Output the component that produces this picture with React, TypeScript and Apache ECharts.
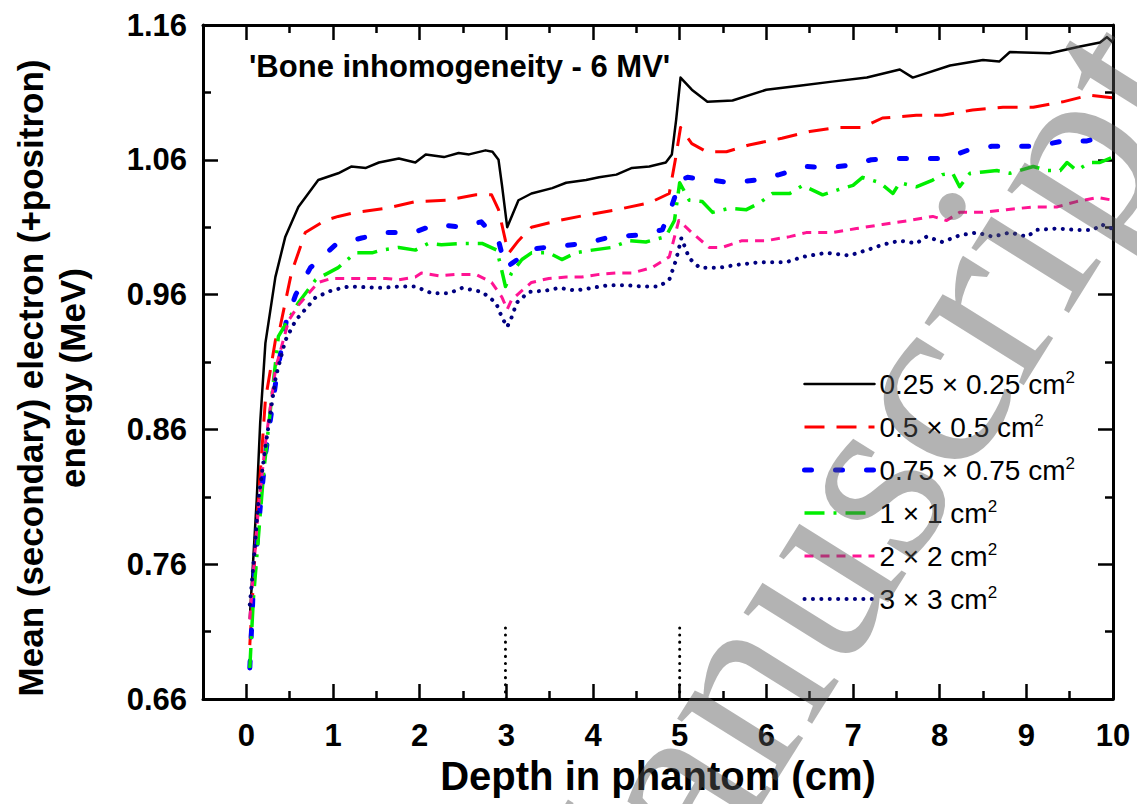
import React, { useEffect, useRef } from "react";
import * as echarts from "echarts";

const seriesNames = [
  "0.25 × 0.25 cm",
  "0.5 × 0.5 cm",
  "0.75 × 0.75 cm",
  "1 × 1 cm",
  "2 × 2 cm",
  "3 × 3 cm",
];

const field025: [number, number][] = [
  [0.04, 0.72], [0.12, 0.808], [0.16, 0.865], [0.22, 0.924], [0.335, 0.973], [0.45, 1.003], [0.6, 1.025],
  [0.83, 1.045], [1.06, 1.05], [1.21, 1.055], [1.38, 1.054], [1.53, 1.058], [1.76, 1.061], [1.95, 1.058],
  [2.07, 1.064], [2.28, 1.062], [2.45, 1.065], [2.57, 1.064], [2.76, 1.067], [2.84, 1.066], [2.91, 1.06],
  [2.95, 1.041], [3.01, 1.01], [3.14, 1.03], [3.29, 1.035], [3.53, 1.039], [3.69, 1.043], [3.92, 1.045],
  [4.07, 1.047], [4.27, 1.049], [4.45, 1.054], [4.65, 1.055], [4.84, 1.058], [4.91, 1.064], [4.96, 1.09],
  [5.01, 1.121], [5.14, 1.112], [5.32, 1.103], [5.61, 1.104], [6.0, 1.112], [6.38, 1.115], [6.76, 1.118],
  [7.16, 1.121], [7.54, 1.127], [7.69, 1.121], [8.12, 1.13], [8.5, 1.134], [8.69, 1.133], [8.81, 1.14],
  [9.27, 1.139], [9.62, 1.144], [9.85, 1.147], [9.93, 1.151], [10.0, 1.147],
];

const field05: [number, number][] = [
  [0.04, 0.7], [0.12, 0.79], [0.22, 0.882], [0.335, 0.926], [0.39, 0.936], [0.52, 0.976], [0.68, 1.006],
  [0.91, 1.015], [1.06, 1.018], [1.26, 1.021], [1.61, 1.024], [1.95, 1.029], [2.3, 1.03], [2.65, 1.034],
  [2.83, 1.034], [2.91, 1.023], [2.99, 1.0], [3.03, 0.991], [3.14, 1.0], [3.29, 1.01], [3.61, 1.015],
  [3.92, 1.019], [4.27, 1.023], [4.65, 1.028], [4.88, 1.035], [4.95, 1.06], [5.01, 1.084], [5.14, 1.072],
  [5.31, 1.066], [5.54, 1.066], [5.8, 1.071], [6.18, 1.076], [6.5, 1.081], [6.81, 1.084], [7.11, 1.084],
  [7.34, 1.091], [7.73, 1.093], [8.03, 1.093], [8.38, 1.097], [8.73, 1.099], [9.08, 1.099], [9.42, 1.103],
  [9.73, 1.108], [10.0, 1.106],
];

const field075: [number, number][] = [
  [0.04, 0.683], [0.07, 0.726], [0.08, 0.745], [0.16, 0.802], [0.22, 0.841], [0.35, 0.9], [0.46, 0.94],
  [0.57, 0.96], [0.74, 0.98], [1.03, 0.997], [1.33, 1.002], [1.62, 1.006], [1.93, 1.006], [2.18, 1.012],
  [2.49, 1.01], [2.71, 1.014], [2.91, 1.0], [2.99, 0.98], [3.06, 0.983], [3.31, 0.994], [3.61, 0.996],
  [3.92, 0.998], [4.21, 1.003], [4.5, 1.004], [4.8, 1.008], [4.91, 1.026], [5.01, 1.045], [5.09, 1.047],
  [5.34, 1.045], [5.61, 1.043], [5.88, 1.045], [6.15, 1.049], [6.46, 1.055], [6.71, 1.054], [6.96, 1.056],
  [7.21, 1.06], [7.5, 1.061], [7.79, 1.061], [8.06, 1.061], [8.32, 1.067], [8.6, 1.07], [8.87, 1.07],
  [9.13, 1.07], [9.42, 1.074], [9.7, 1.074], [9.99, 1.079],
];

const field1: [number, number][] = [
  [0.04, 0.683], [0.08, 0.733], [0.12, 0.765], [0.2, 0.828], [0.29, 0.882], [0.37, 0.929], [0.6, 0.954],
  [0.8, 0.971], [1.06, 0.98], [1.26, 0.991], [1.45, 0.991], [1.56, 0.993], [1.76, 0.995], [1.95, 0.993],
  [2.1, 0.998], [2.25, 0.997], [2.49, 0.998], [2.72, 0.998], [2.89, 0.993], [2.94, 0.98], [2.99, 0.966],
  [3.06, 0.976], [3.18, 0.986], [3.29, 0.991], [3.49, 0.991], [3.64, 0.986], [3.8, 0.991], [3.99, 0.993],
  [4.22, 0.995], [4.42, 1.0], [4.61, 0.999], [4.84, 1.003], [4.94, 1.015], [5.0, 1.043], [5.11, 1.03],
  [5.26, 1.029], [5.38, 1.021], [5.57, 1.024], [5.77, 1.023], [5.92, 1.028], [6.07, 1.035], [6.27, 1.035],
  [6.42, 1.041], [6.65, 1.034], [6.84, 1.038], [7.0, 1.041], [7.11, 1.047], [7.31, 1.043], [7.46, 1.035],
  [7.54, 1.043], [7.73, 1.04], [7.92, 1.045], [8.03, 1.049], [8.15, 1.05], [8.23, 1.04], [8.35, 1.05],
  [8.5, 1.051], [8.66, 1.052], [8.81, 1.05], [9.08, 1.055], [9.24, 1.052], [9.39, 1.052], [9.47, 1.058],
  [9.58, 1.052], [9.73, 1.058], [9.85, 1.058], [10.0, 1.062],
];

const field2: [number, number][] = [
  [0.04, 0.719], [0.08, 0.753], [0.14, 0.802], [0.22, 0.85], [0.34, 0.906], [0.49, 0.941], [0.6, 0.952],
  [0.72, 0.961], [0.83, 0.969], [0.98, 0.972], [1.26, 0.972], [1.61, 0.972], [1.76, 0.971], [1.95, 0.973],
  [2.02, 0.976], [2.22, 0.974], [2.42, 0.975], [2.65, 0.975], [2.83, 0.969], [2.95, 0.958], [3.01, 0.949],
  [3.06, 0.956], [3.18, 0.963], [3.29, 0.969], [3.49, 0.972], [3.69, 0.973], [3.87, 0.973], [4.07, 0.975],
  [4.27, 0.976], [4.45, 0.976], [4.68, 0.98], [4.88, 0.988], [4.99, 1.015], [5.14, 1.006], [5.34, 0.995],
  [5.49, 0.995], [5.72, 1.0], [6.0, 1.0], [6.27, 1.003], [6.46, 1.006], [6.76, 1.006], [7.04, 1.009],
  [7.34, 1.012], [7.65, 1.015], [7.92, 1.018], [8.08, 1.015], [8.23, 1.021], [8.5, 1.021], [8.77, 1.023],
  [9.08, 1.025], [9.35, 1.025], [9.58, 1.029], [9.82, 1.032], [10.0, 1.03],
];

const field3: [number, number][] = [
  [0.04, 0.73], [0.08, 0.758], [0.14, 0.808], [0.22, 0.847], [0.34, 0.899], [0.45, 0.926], [0.57, 0.941],
  [0.72, 0.952], [0.8, 0.958], [0.98, 0.963], [1.18, 0.966], [1.56, 0.965], [1.76, 0.966], [1.95, 0.966],
  [2.14, 0.961], [2.34, 0.961], [2.49, 0.965], [2.72, 0.962], [2.8, 0.958], [2.88, 0.954], [2.95, 0.943],
  [3.01, 0.936], [3.06, 0.943], [3.12, 0.954], [3.26, 0.962], [3.46, 0.963], [3.61, 0.965], [3.8, 0.963],
  [3.99, 0.965], [4.18, 0.967], [4.38, 0.967], [4.57, 0.966], [4.76, 0.966], [4.88, 0.971], [4.96, 0.986],
  [5.02, 1.002], [5.11, 0.987], [5.23, 0.98], [5.46, 0.98], [5.65, 0.982], [5.92, 0.984], [6.23, 0.984],
  [6.42, 0.988], [6.69, 0.991], [6.96, 0.989], [7.16, 0.993], [7.34, 0.997], [7.54, 1.0], [7.73, 0.998],
  [7.85, 1.003], [8.03, 0.999], [8.23, 1.004], [8.43, 1.006], [8.61, 1.003], [8.81, 1.006], [9.01, 1.003],
  [9.12, 1.008], [9.35, 1.009], [9.58, 1.008], [9.77, 1.008], [9.87, 1.012], [9.99, 1.009],
];

const boneStartLine: [number, number][] = [[2.99, 0.66], [2.99, 0.713]];
const boneEndLine: [number, number][] = [[5.0, 0.66], [5.0, 0.717]];

const xMajorTicks = [0, 1, 2, 3, 4, 5, 6, 7, 8, 9, 10];
const xMinorTicks = [0.5, 1.5, 2.5, 3.5, 4.5, 5.5, 6.5, 7.5, 8.5, 9.5];
const yMajorTicks = [0.66, 0.76, 0.86, 0.96, 1.06, 1.16];
const yMinorTicks = [0.71, 0.81, 0.91, 1.01, 1.11];

const FONT = '"Liberation Sans", Arial, Helvetica, sans-serif';

export default function App() {
  const ref = useRef<HTMLDivElement>(null);

  useEffect(() => {
    document.body.style.margin = "0";
    const chart = echarts.init(ref.current!, null, { renderer: "svg" });

    const baseX = (position: string, ticks: number[], len: number, showLine: boolean, labels: boolean) => ({
      type: "value",
      position,
      min: -0.5,
      max: 10,
      axisLine: { show: showLine, onZero: false, lineStyle: { color: "#000", width: 3 } },
      axisTick: { show: true, inside: true, length: len, customValues: ticks, lineStyle: { color: "#000", width: 2.5 } },
      axisLabel: labels
        ? {
            show: true,
            customValues: ticks,
            margin: 21,
            color: "#000",
            fontSize: 31,
            fontWeight: "bold",
            fontFamily: FONT,
            formatter: (v: number) => String(v),
          }
        : { show: false },
      splitLine: { show: false },
    });

    const baseY = (position: string, ticks: number[], len: number, showLine: boolean, labels: boolean) => ({
      type: "value",
      position,
      min: 0.66,
      max: 1.16,
      axisLine: { show: showLine, onZero: false, lineStyle: { color: "#000", width: 3 } },
      axisTick: { show: true, inside: true, length: len, customValues: ticks, lineStyle: { color: "#000", width: 2.5 } },
      axisLabel: labels
        ? {
            show: true,
            customValues: ticks,
            margin: 16,
            color: "#000",
            fontSize: 31,
            fontWeight: "bold",
            fontFamily: FONT,
            formatter: (v: number) => v.toFixed(2),
          }
        : { show: false },
      splitLine: { show: false },
    });

    const xAxes: any[] = [
      {
        ...baseX("bottom", xMajorTicks, 15, true, true),
        name: "Depth in phantom (cm)",
        nameLocation: "middle",
        nameGap: 57,
        nameTextStyle: { color: "#000", fontSize: 40, fontWeight: "bold", fontFamily: FONT },
      },
      baseX("bottom", xMinorTicks, 8, false, false),
      baseX("top", xMajorTicks, 15, true, false),
      baseX("top", xMinorTicks, 8, false, false),
    ];
    const yAxes: any[] = [
      {
        ...baseY("left", yMajorTicks, 15, true, true),
        name: "Mean (secondary) electron (+positron)\nenergy (MeV)",
        nameLocation: "middle",
        nameGap: 110,
        nameTextStyle: {
          color: "#000",
          fontSize: 35,
          fontWeight: "bold",
          fontFamily: FONT,
          lineHeight: 42,
          align: "center",
          padding: [0, 32, 0, 0],
        },
      },
      baseY("left", yMinorTicks, 8, false, false),
      baseY("right", yMajorTicks, 15, true, false),
      baseY("right", yMinorTicks, 8, false, false),
    ];

    const mk = (name: string, data: [number, number][], color: string, width: number, type: any, cap = "butt") => ({
      name,
      type: "line",
      data,
      xAxisIndex: 0,
      yAxisIndex: 0,
      symbol: "none",
      smooth: false,
      lineStyle: { color, width, type, cap, join: "round" },
      itemStyle: { color },
    });

    const option: any = {
      animation: false,
      backgroundColor: "#fff",
      grid: { left: 203, right: 24, top: 25, bottom: 105, containLabel: false },
      title: {
        text: "'Bone inhomogeneity - 6 MV'",
        left: 244,
        top: 46,
        textStyle: { color: "#000", fontSize: 31, fontWeight: "bold", fontFamily: FONT },
      },
      legend: {
        orient: "vertical",
        left: 797,
        top: 364,
        itemWidth: 70,
        itemHeight: 14,
        itemGap: 14,
        data: seriesNames,
        formatter: (n: string) => `{n|${n}}{sup|2}`,
        itemStyle: { opacity: 0, borderWidth: 0 },
        textStyle: {
          color: "#000",
          fontSize: 28,
          fontFamily: FONT,
          rich: {
            n: { fontSize: 28, lineHeight: 30, fontFamily: FONT, color: "#000" },
            sup: { fontSize: 17, lineHeight: 12, verticalAlign: "top", fontFamily: FONT, color: "#000" },
          },
        },
        lineStyle: { type: "inherit", width: "inherit", cap: "inherit" },
      },
      xAxis: xAxes,
      yAxis: yAxes,
      series: [
        mk(seriesNames[0], field025, "#000000", 2.5, "solid", "round"),
        mk(seriesNames[1], field05, "#ff0000", 3, [20, 12]),
        mk(seriesNames[2], field075, "#0000ff", 5, [7, 24], "round"),
        mk(seriesNames[3], field1, "#00ee00", 3.5, [20, 9, 3, 9]),
        mk(seriesNames[4], field2, "#ff1493", 3, [9, 7]),
        mk(seriesNames[5], field3, "#000080", 4, [0.1, 8.3], "round"),
        {
          type: "line",
          data: boneStartLine,
          symbol: "none",
          lineStyle: { color: "#000", width: 3, type: [0.1, 7], cap: "round" },
        },
        {
          type: "line",
          data: boneEndLine,
          symbol: "none",
          lineStyle: { color: "#000", width: 3, type: [0.1, 7], cap: "round" },
        },
      ],
      graphic: [
        {
          type: "text",
          x: 828,
          y: 536,
          rotation: (58 * Math.PI) / 180,
          z: 100,
          silent: true,
          style: {
            text: "Manuscript",
            x: 0,
            y: 0,
            align: "center",
            verticalAlign: "middle",
            fontSize: 255,
            fontFamily: '"Liberation Serif", "Times New Roman", serif',
            fill: "#565656",
            opacity: 0.45,
          },
        },
      ],
    };

    chart.setOption(option);
    return () => chart.dispose();
  }, []);

  return <div ref={ref} style={{ width: 1137, height: 804 }} />;
}
